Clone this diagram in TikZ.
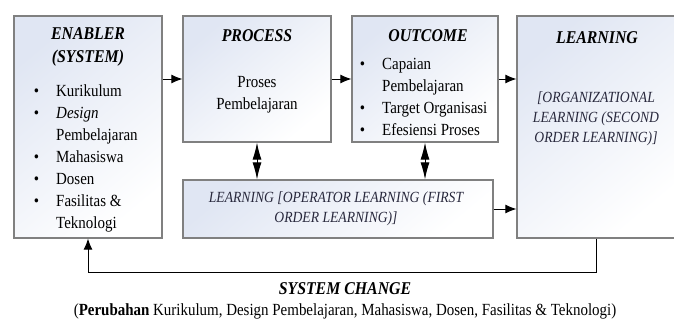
\documentclass[tikz,border=0pt]{standalone}
\usepackage{fontspec}
\setmainfont{Liberation Serif}[FakeStretch=0.88]
\usetikzlibrary{arrows.meta,shadows}

\definecolor{boxline}{RGB}{128,128,128}
\definecolor{boxtint}{RGB}{224,230,243}
\definecolor{slanttext}{RGB}{40,40,60}

\newcommand{\bul}{\llap{\textbullet\hspace{17pt}}}

\tikzset{
	panel/.style={draw=boxline, line width=1.2pt, top color=boxtint, bottom color=white, shading angle=40,
		drop shadow={shadow xshift=1pt, shadow yshift=-1pt, opacity=0.35}},
	title/.style={font=\fontsize{18}{23}\selectfont\bfseries\itshape, align=center, inner sep=0pt},
	body/.style={font=\fontsize{17}{22}\selectfont, align=left, inner sep=0pt},
	slant/.style={font=\fontsize{15.5}{20}\selectfont\itshape, align=center, text=slanttext, inner sep=0pt},
	flow/.style={-{Latex[length=11pt,width=9pt]}, line width=1pt},
	twoway/.style={{Latex[length=17pt,width=9pt]}-{Latex[length=17pt,width=9pt]}, line width=1pt}
}

\begin{document}
\begin{tikzpicture}[x=1pt, y=-1pt]
	\useasboundingbox (0,0) rectangle (674,321);
	
	% Boxes
	\node[panel, minimum width=148pt, minimum height=222pt] (enabler) at (88,127) {};
	\node[panel, minimum width=148pt, minimum height=126pt] (process) at (257,79) {};
	\node[panel, minimum width=146pt, minimum height=126pt] (outcome) at (425,79) {};
	\node[panel, minimum width=159pt, minimum height=222pt] (learning) at (596.5,127) {};
	\node[panel, minimum width=310pt, minimum height=58pt] (operator) at (338,209) {};
	
	% Texts
	\node[title] (enablertitle) at (88,47) {ENABLER\\(SYSTEM)};
	\node[body, anchor=north west] (enablerlist) at (56,85) {\bul Kurikulum\\ \bul\textit{Design}\\ Pembelajaran\\ \bul Mahasiswa\\ \bul Dosen\\ \bul Fasilitas \&\\ Teknologi};
	
	\node[title] (processtitle) at (257,36) {PROCESS};
	\node[body, align=center] (processtext) at (257,95) {Proses\\Pembelajaran};
	
	\node[title] (outcometitle) at (428,36) {OUTCOME};
	\node[body, anchor=north west] (outcomelist) at (382,58) {\bul Capaian\\ Pembelajaran\\ \bul Target Organisasi\\ \bul Efesiensi Proses};
	
	\node[title] (learningtitle) at (597,38) {LEARNING};
	\node[slant] (learningtext) at (596,119) {[ORGANIZATIONAL\\LEARNING (SECOND\\ORDER LEARNING)]};
	
	\node[slant] (operatortext) at (336,209) {LEARNING [OPERATOR LEARNING (FIRST\\ORDER LEARNING)]};
	
	\node[title] (changetitle) at (345,289) {SYSTEM CHANGE};
	\node[body] (changetext) at (345,311) {(\textbf{Perubahan} Kurikulum, Design Pembelajaran, Mahasiswa, Dosen, Fasilitas \& Teknologi)};
	
	% Arrows
	\draw[flow] (process.west -| enabler.east) -- (process.west);
	\draw[flow] (process.east) -- (outcome.west);
	\draw[flow] (outcome.east) -- (outcome.east -| learning.west);
	\draw[flow] (operator.east) -- (operator.east -| learning.west);
	\draw[twoway] (process.south) -- (process.south |- operator.north);
	\draw[twoway] (outcome.south) -- (outcome.south |- operator.north);
	
	% Feedback loop
	\coordinate (turn) at (88,272);
	\draw[flow] (learning.south) |- (turn) -- (enabler.south);
\end{tikzpicture}
\end{document}
